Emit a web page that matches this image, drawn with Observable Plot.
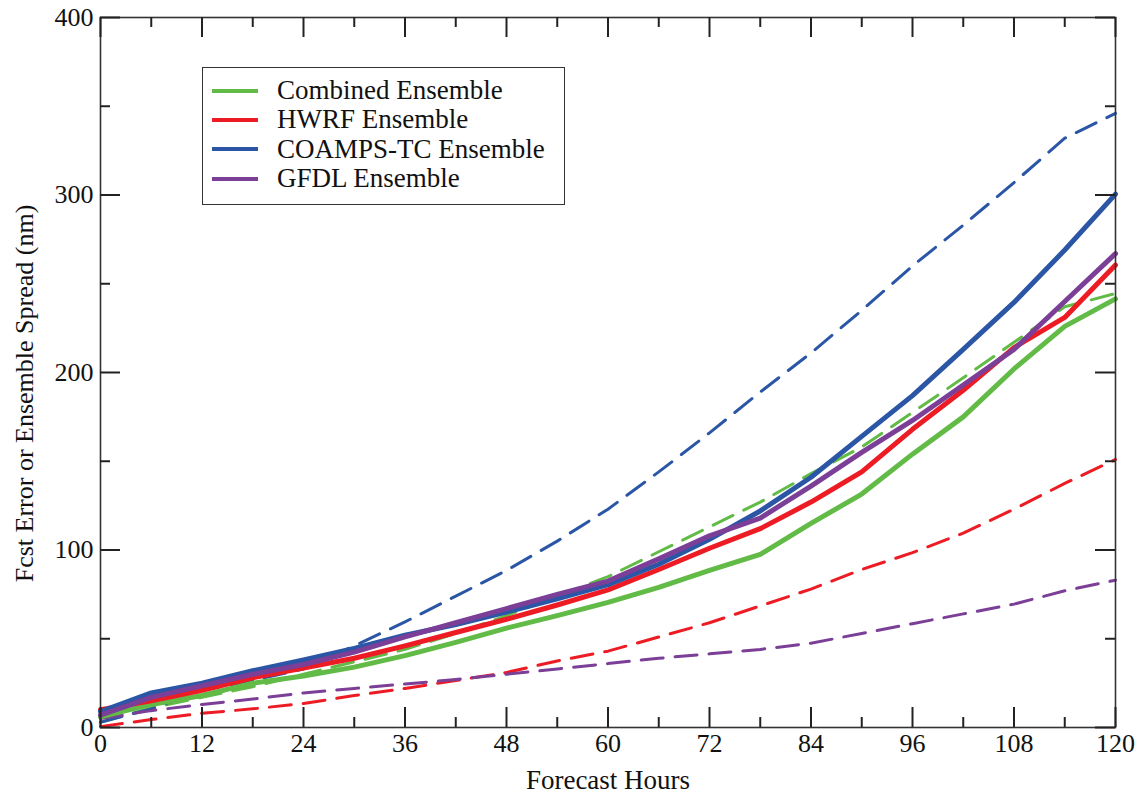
<!DOCTYPE html>
<html>
<head>
<meta charset="utf-8">
<script src="https://cdn.jsdelivr.net/npm/d3@7"></script>
<script src="https://cdn.jsdelivr.net/npm/@observablehq/plot@0.6"></script>
<style>
  body { margin: 0; background: #fff; }
  #wrap { position: relative; width: 1139px; height: 793px; }
  #legend {
    position: absolute; left: 202px; top: 67px; width: 361px; height: 128px;
    border: 1.6px solid #333; background: #fff;
    font-family: "Liberation Serif", serif; font-size: 27px; color: #111;
    padding-top: 8px; box-sizing: content-box;
  }
  #legend .row { display: flex; align-items: center; height: 29.4px; line-height: 29.4px; white-space: nowrap; }
  #legend .sw { width: 46px; height: 4px; margin-left: 9px; margin-right: 19px; }
</style>
</head>
<body>
<div id="wrap">
  <div id="chart"></div>
  <div id="legend"></div>
</div>
<script>
// ---- Data ----
const hours = [0, 6, 12, 18, 24, 30, 36, 42, 48, 54, 60, 66, 72, 78, 84, 90, 96, 102, 108, 114, 120];

// Forecast error (solid lines)
const combinedError = [6, 13, 18, 25, 29, 34, 40.5, 48, 56, 63, 70.5, 79, 88.5, 97.5, 115, 131.5, 154, 175, 202, 226, 241.5];
const hwrfError     = [10, 15, 21, 28, 33.5, 39, 46, 53.5, 61, 69, 77.5, 89, 101, 112, 127, 144, 168, 190, 214, 231, 260.5];
const coampsError   = [9, 19.5, 25, 32, 38, 44.5, 52, 58, 65, 72.5, 80.5, 92, 106, 122, 141, 164, 187, 213, 239.5, 269, 300.5];
const gfdlError     = [7, 17, 23.5, 30, 35.5, 42.5, 51, 59, 67, 75, 82.5, 95, 108, 118, 136, 155, 173, 193, 213, 240, 267];

// Ensemble spread (dashed lines)
const combinedSpread = [3, 11, 17, 23, 30, 37, 44, 53, 63, 74, 85, 99, 113, 127, 143, 158, 177.5, 197, 217, 237, 244.5];
const hwrfSpread     = [0.5, 4.5, 8, 10.5, 13.5, 18, 22, 26.5, 31, 37.5, 43, 51, 59, 68.5, 78, 89, 98.5, 109.5, 123, 137.5, 151];
const coampsSpread   = [3, 10.5, 21, 26.5, 33, 46, 59.5, 74, 88.5, 105, 123, 144, 166, 189, 211, 235, 260, 283, 307, 332, 346];
const gfdlSpread     = [5, 9.5, 13, 16, 19.5, 22, 24.5, 27, 30, 33, 36, 39, 41.5, 44, 47.5, 53, 58.5, 64, 69.5, 77, 83];

const seriesNames  = ["Combined Ensemble", "HWRF Ensemble", "COAMPS-TC Ensemble", "GFDL Ensemble"];
const seriesColors = ["#62bb46", "#ed1c24", "#2b56a6", "#7b3f98"];

const xMajor = [0, 12, 24, 36, 48, 60, 72, 84, 96, 108, 120];
const xMinor = [6, 18, 30, 42, 54, 66, 78, 90, 102, 114];
const yMajor = [0, 100, 200, 300, 400];
const yMinor = [50, 150, 250, 350];

const xTitle = "Forecast Hours";
const yTitle = "Fcst Error or Ensemble Spread (nm)";

// ---- Build tables ----
const errorSets  = [combinedError, hwrfError, coampsError, gfdlError];
const spreadSets = [combinedSpread, hwrfSpread, coampsSpread, gfdlSpread];
const toRows = (sets) => sets.flatMap((vals, i) =>
  hours.map((h, j) => ({hour: h, value: vals[j], series: seriesNames[i]})));
const errorRows  = toRows(errorSets);
const spreadRows = toRows(spreadSets);

const W = 1139, H = 793;
const mL = 100, mR = 24, mT = 17, mB = 66;
const innerW = W - mL - mR, innerH = H - mT - mB;
const majorLen = 20, minorLen = 10;
const tickColor = "#222";

const chart = Plot.plot({
  width: W, height: H,
  marginLeft: mL, marginRight: mR, marginTop: mT, marginBottom: mB,
  style: {fontFamily: "'Liberation Serif', serif", background: "#fff", color: "#111"},
  x: {domain: [0, 120]},
  y: {domain: [0, 400]},
  color: {domain: seriesNames, range: seriesColors},
  marks: [
    // dashed spread lines
    Plot.line(spreadRows, {x: "hour", y: "value", z: "series", stroke: "series",
      strokeWidth: 3, strokeDasharray: "22,12", curve: "linear"}),
    // solid error lines
    Plot.line(errorRows, {x: "hour", y: "value", z: "series", stroke: "series",
      strokeWidth: 5, curve: "linear"}),
    Plot.frame({stroke: "#333", strokeWidth: 1.6}),
    // inward ticks: bottom & top
    Plot.tickX(xMajor, {x: d => d, insetTop: innerH - majorLen, stroke: tickColor, strokeWidth: 2}),
    Plot.tickX(xMinor, {x: d => d, insetTop: innerH - minorLen, stroke: tickColor, strokeWidth: 2}),
    Plot.tickX(xMajor, {x: d => d, insetBottom: innerH - majorLen, stroke: tickColor, strokeWidth: 2}),
    Plot.tickX(xMinor, {x: d => d, insetBottom: innerH - minorLen, stroke: tickColor, strokeWidth: 2}),
    // inward ticks: left & right
    Plot.tickY(yMajor, {y: d => d, insetRight: innerW - majorLen, stroke: tickColor, strokeWidth: 2}),
    Plot.tickY(yMinor, {y: d => d, insetRight: innerW - minorLen, stroke: tickColor, strokeWidth: 2}),
    Plot.tickY(yMajor, {y: d => d, insetLeft: innerW - majorLen, stroke: tickColor, strokeWidth: 2}),
    Plot.tickY(yMinor, {y: d => d, insetLeft: innerW - minorLen, stroke: tickColor, strokeWidth: 2}),
    // tick labels
    Plot.axisX({ticks: xMajor, tickSize: 0, tickPadding: 6, fontSize: 26, label: null, tickFormat: d => String(d)}),
    Plot.axisY({ticks: yMajor, tickSize: 0, tickPadding: 7, fontSize: 26, label: null, tickFormat: d => String(d)}),
    // axis titles
    Plot.text([xTitle], {text: d => d, frameAnchor: "bottom", dy: 61, fontSize: 27, fill: "#111"}),
    Plot.text([yTitle], {text: d => d, frameAnchor: "left", textAnchor: "middle", lineAnchor: "middle",
      dx: -76, dy: 21, rotate: -90, fontSize: 26, fill: "#111"})
  ]
});
document.getElementById("chart").appendChild(chart);

// ---- Legend ----
const legend = document.getElementById("legend");
seriesNames.forEach((name, i) => {
  const row = document.createElement("div");
  row.className = "row";
  const sw = document.createElement("span");
  sw.className = "sw";
  sw.style.background = seriesColors[i];
  const label = document.createElement("span");
  label.textContent = name;
  row.appendChild(sw);
  row.appendChild(label);
  legend.appendChild(row);
});
</script>
</body>
</html>
